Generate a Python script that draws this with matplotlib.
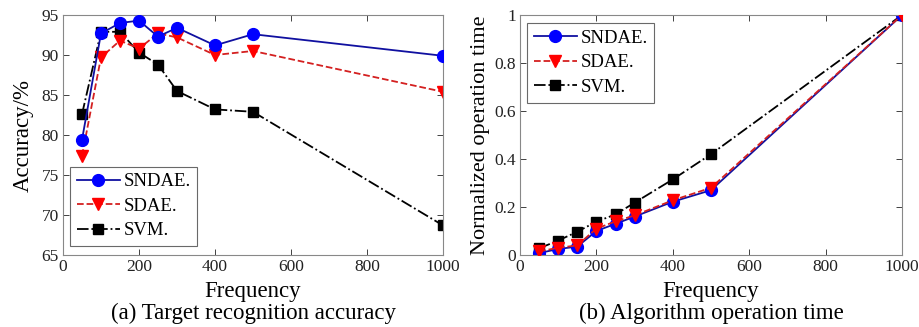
import matplotlib
matplotlib.use("Agg")
import matplotlib.pyplot as plt

plt.rcParams['font.family'] = ['Liberation Serif', 'DejaVu Serif']

freq = [50, 100, 150, 200, 250, 300, 400, 500, 1000]

acc_sndae = [79.4, 92.7, 94.0, 94.3, 92.3, 93.4, 91.2, 92.6, 89.9]
acc_sdae = [77.4, 89.7, 91.8, 90.8, 92.7, 92.2, 90.0, 90.5, 85.4]
acc_svm = [82.6, 92.9, 92.9, 90.3, 88.8, 85.5, 83.2, 82.9, 68.7]

time_sndae = [0.008, 0.025, 0.035, 0.10, 0.13, 0.16, 0.222, 0.27, 1.0]
time_sdae = [0.015, 0.03, 0.04, 0.11, 0.14, 0.165, 0.228, 0.28, 1.0]
time_svm = [0.028, 0.06, 0.097, 0.139, 0.169, 0.218, 0.315, 0.42, 1.0]

labels = ['SNDAE.', 'SDAE.', 'SVM.']

fig = plt.figure(figsize=(9.19, 3.27), dpi=100)
ax1 = fig.add_axes([63/919, 1-255/327, 380/919, 240/327])
ax2 = fig.add_axes([520/919, 1-255/327, 382/919, 240/327])

lw = 1.3
ms = 7.5

def style(ax):
    ax.tick_params(direction='in', top=True, right=True, labelsize=12.5, length=4, width=0.6,
                   colors='#222222', pad=3)
    for s in ax.spines.values():
        s.set_color('#888888')
        s.set_linewidth(0.8)
    ax.set_xlim(0, 1000)
    ax.set_xticks([0, 200, 400, 600, 800, 1000])
    ax.set_xlabel('Frequency', fontsize=16.5)
    ax.xaxis.set_label_coords(0.5, -(292-255)/240, transform=ax.transAxes)
    ax.xaxis.label.set_va('center')

# (a)
ax1.plot(freq, acc_sndae, '-o', color='#1010a0', mfc='#0000ff', mec='#0000ff', lw=lw, ms=ms+1, label=labels[0], zorder=3)
ax1.plot(freq, acc_sdae, '--v', color='#d42020', mfc='#ff0000', mec='#ff0000', lw=lw, ms=ms+1, label=labels[1], zorder=2)
ax1.plot(freq, acc_svm, '-.s', color='black', mfc='black', lw=lw, ms=ms, label=labels[2], zorder=1)
ax1.set_ylim(65, 95)
ax1.set_yticks([65, 70, 75, 80, 85, 90, 95])
style(ax1)
ax1.set_ylabel('Accuracy/%', fontsize=16.5)
ax1.yaxis.set_label_coords(-(63-23)/380, 0.5)
ax1.yaxis.label.set_va('center')
leg1 = ax1.legend(loc='lower left', fontsize=13.5, frameon=True, fancybox=False, edgecolor='#444444',
                  handlelength=2.3, borderpad=0.35, labelspacing=0.4, handletextpad=0.2,
                  borderaxespad=0, bbox_to_anchor=(7/380, 9/240))
leg1.get_frame().set_linewidth(0.8)

# (b)
ax2.plot(freq, time_sndae, '-o', color='#1010a0', mfc='#0000ff', mec='#0000ff', lw=lw, ms=ms+1, label=labels[0], zorder=2)
ax2.plot(freq, time_sdae, '--v', color='#d42020', mfc='#ff0000', mec='#ff0000', lw=lw, ms=ms+1, label=labels[1], zorder=3)
ax2.plot(freq, time_svm, '-.s', color='black', mfc='black', lw=lw, ms=ms, label=labels[2], zorder=1)
ax2.set_ylim(0, 1)
ax2.set_yticks([0, 0.2, 0.4, 0.6, 0.8, 1])
ax2.set_yticklabels(['0', '0.2', '0.4', '0.6', '0.8', '1'])
style(ax2)
ax2.set_ylabel('Normalized operation time', fontsize=16)
ax2.yaxis.set_label_coords(-(520-480)/382, 0.5)
ax2.yaxis.label.set_va('center')
leg2 = ax2.legend(loc='upper left', fontsize=13.5, frameon=True, fancybox=False, edgecolor='#444444',
                  handlelength=2.3, borderpad=0.35, labelspacing=0.4, handletextpad=0.2,
                  borderaxespad=0, bbox_to_anchor=(7/382, 1-8/240))
leg2.get_frame().set_linewidth(0.8)

fig.text((63+443)/2/919, 1-313/327, '(a) Target recognition accuracy', ha='center', va='center', fontsize=16.5)
fig.text((520+902)/2/919, 1-313/327, '(b) Algorithm operation time', ha='center', va='center', fontsize=16.5)

fig.savefig('out.png', dpi=100)
